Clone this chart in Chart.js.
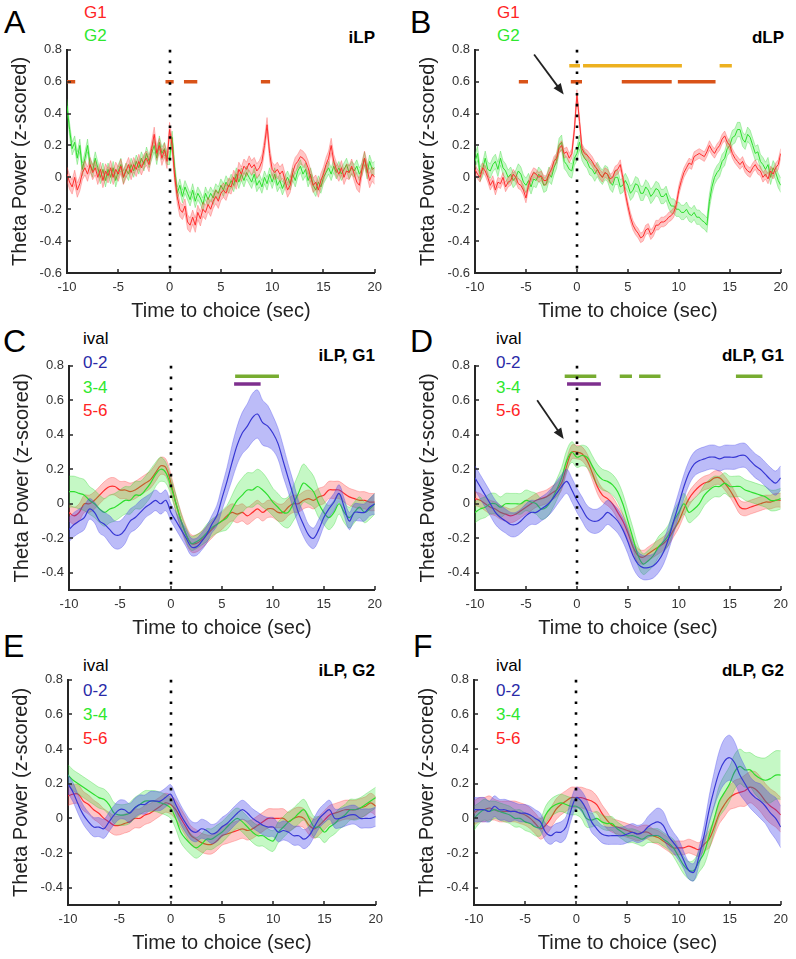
<!DOCTYPE html>
<html>
<head>
<meta charset="utf-8">
<title>Theta power around choice</title>
<script src="https://cdn.jsdelivr.net/npm/chart.js@4.4.1/dist/chart.umd.min.js"></script>
<style>
  body { margin: 0; background: #fff; }
  #fig { position: relative; width: 796px; height: 959px; overflow: hidden;
         font-family: "Liberation Sans", Arial, Helvetica, sans-serif; }
  #fig canvas { position: absolute; }
  .lbl { position: absolute; line-height: 1; white-space: nowrap; }
  .letter { font-size: 32px; color: #000; }
  .key { font-size: 17px; }
  .ttl { font-size: 17px; font-weight: bold; color: #000; }
</style>
</head>
<body>
<div id="fig">
  <div class="lbl letter" style="left:4px;top:6px">A</div>
  <div class="lbl key" style="left:84px;top:4px;color:#ff2424">G1</div>
  <div class="lbl key" style="left:84px;top:27px;color:#2ee82e">G2</div>
  <div class="lbl ttl" style="right:421px;top:29px">iLP</div>

  <div class="lbl letter" style="left:410px;top:6px">B</div>
  <div class="lbl key" style="left:497px;top:4px;color:#ff2424">G1</div>
  <div class="lbl key" style="left:497px;top:27px;color:#2ee82e">G2</div>
  <div class="lbl ttl" style="right:12px;top:29px">dLP</div>

  <div class="lbl letter" style="left:3px;top:325px">C</div>
  <div class="lbl key" style="left:83px;top:330px;color:#000">ival</div>
  <div class="lbl key" style="left:83px;top:354px;color:#2a2aa8">0-2</div>
  <div class="lbl key" style="left:83px;top:379px;color:#2ee82e">3-4</div>
  <div class="lbl key" style="left:83px;top:402px;color:#ff2424">5-6</div>
  <div class="lbl ttl" style="right:421px;top:347px">iLP, G1</div>

  <div class="lbl letter" style="left:410px;top:325px">D</div>
  <div class="lbl key" style="left:496px;top:330px;color:#000">ival</div>
  <div class="lbl key" style="left:496px;top:354px;color:#2a2aa8">0-2</div>
  <div class="lbl key" style="left:496px;top:379px;color:#2ee82e">3-4</div>
  <div class="lbl key" style="left:496px;top:402px;color:#ff2424">5-6</div>
  <div class="lbl ttl" style="right:12px;top:347px">dLP, G1</div>

  <div class="lbl letter" style="left:3px;top:630px">E</div>
  <div class="lbl key" style="left:83px;top:657px;color:#000">ival</div>
  <div class="lbl key" style="left:83px;top:682px;color:#2a2aa8">0-2</div>
  <div class="lbl key" style="left:83px;top:706px;color:#2ee82e">3-4</div>
  <div class="lbl key" style="left:83px;top:730px;color:#ff2424">5-6</div>
  <div class="lbl ttl" style="right:421px;top:662px">iLP, G2</div>

  <div class="lbl letter" style="left:413px;top:630px">F</div>
  <div class="lbl key" style="left:496px;top:657px;color:#000">ival</div>
  <div class="lbl key" style="left:496px;top:682px;color:#2a2aa8">0-2</div>
  <div class="lbl key" style="left:496px;top:706px;color:#2ee82e">3-4</div>
  <div class="lbl key" style="left:496px;top:730px;color:#ff2424">5-6</div>
  <div class="lbl ttl" style="right:12px;top:662px">dLP, G2</div>
</div>

<script>
// ---- time bases (sec) ----
const timeQ = [
  -10,-9.75,-9.5,-9.25,-9,-8.75,-8.5,-8.25,
  -8,-7.75,-7.5,-7.25,-7,-6.75,-6.5,-6.25,
  -6,-5.75,-5.5,-5.25,-5,-4.75,-4.5,-4.25,
  -4,-3.75,-3.5,-3.25,-3,-2.75,-2.5,-2.25,
  -2,-1.75,-1.5,-1.25,-1,-0.75,-0.5,-0.25,
  0,0.25,0.5,0.75,1,1.25,1.5,1.75,
  2,2.25,2.5,2.75,3,3.25,3.5,3.75,
  4,4.25,4.5,4.75,5,5.25,5.5,5.75,
  6,6.25,6.5,6.75,7,7.25,7.5,7.75,
  8,8.25,8.5,8.75,9,9.25,9.5,9.75,
  10,10.25,10.5,10.75,11,11.25,11.5,11.75,
  12,12.25,12.5,12.75,13,13.25,13.5,13.75,
  14,14.25,14.5,14.75,15,15.25,15.5,15.75,
  16,16.25,16.5,16.75,17,17.25,17.5,17.75,
  18,18.25,18.5,18.75,19,19.25,19.5,19.75,
  20];
const timeH = [
  -10,-9.5,-9,-8.5,-8,-7.5,-7,-6.5,-6,-5.5,
  -5,-4.5,-4,-3.5,-3,-2.5,-2,-1.5,-1,-0.5,
  0,0.5,1,1.5,2,2.5,3,3.5,4,4.5,
  5,5.5,6,6.5,7,7.5,8,8.5,9,9.5,
  10,10.5,11,11.5,12,12.5,13,13.5,14,14.5,
  15,15.5,16,16.5,17,17.5,18,18.5,19,19.5,
  20];

// ---- tick labels ----
const xTicks = [-10, -5, 0, 5, 10, 15, 20];
const yTicksAB = [-0.6, -0.4, -0.2, 0, 0.2, 0.4, 0.6, 0.8];
const yTicksCF = [-0.4, -0.2, 0, 0.2, 0.4, 0.6, 0.8];

// ---- A: iLP, G1 vs G2 ----
const ilpG1 = [
  0.02,-0.03,-0.06,0.0,-0.08,-0.04,0.03,0.06,
  0.02,0.08,0.03,0.06,0.0,0.05,-0.02,0.04,
  0.01,0.06,0.0,0.05,0.02,0.07,0.0,0.04,
  0.08,0.03,0.08,0.05,0.1,0.06,0.1,0.12,
  0.08,0.18,0.27,0.15,0.2,0.12,0.17,0.1,
  0.3,0.2,0.0,-0.12,-0.2,-0.22,-0.18,-0.28,
  -0.3,-0.25,-0.3,-0.22,-0.26,-0.2,-0.22,-0.17,
  -0.2,-0.15,-0.12,-0.15,-0.1,-0.08,-0.1,-0.05,
  -0.06,0.0,-0.03,0.05,0.02,0.07,0.05,0.09,
  0.06,0.08,0.04,0.06,0.1,0.2,0.33,0.15,
  0.05,0.03,0.05,0.02,0.04,-0.02,-0.08,-0.05,
  0.03,0.08,0.1,0.13,0.12,0.1,0.06,0.0,
  -0.05,-0.03,-0.08,-0.02,0.02,0.08,0.12,0.2,
  0.1,0.05,0.02,0.06,0.0,0.04,0.03,0.07,
  0.02,-0.03,-0.05,0.05,0.12,0.05,-0.02,0.02,
  0.0];
const ilpG2 = [
  0.45,0.3,0.18,0.22,0.12,0.2,0.05,0.12,
  0.2,0.08,0.04,0.12,0.06,0.0,0.05,-0.02,
  0.05,0.0,0.06,-0.02,0.04,0.08,0.0,0.05,
  0.02,0.08,0.04,0.1,0.06,0.12,0.08,0.15,
  0.1,0.15,0.2,0.12,0.22,0.15,0.18,0.12,
  0.12,0.25,0.05,-0.1,-0.05,-0.12,-0.06,-0.1,
  -0.14,-0.08,-0.15,-0.1,-0.13,-0.17,-0.1,-0.14,
  -0.1,-0.13,-0.08,-0.1,-0.05,-0.08,-0.03,-0.06,
  -0.02,-0.05,0.02,-0.03,0.02,-0.02,0.03,0.0,
  -0.03,0.02,-0.05,-0.02,-0.06,0.0,-0.04,0.02,
  -0.03,0.02,-0.05,-0.02,-0.07,-0.03,0.0,-0.04,
  0.02,-0.02,0.04,0.07,0.02,0.05,-0.02,0.02,
  -0.05,-0.08,-0.03,-0.06,0.0,0.03,0.06,0.02,
  0.07,0.03,0.06,0.02,0.05,0.08,0.03,0.06,
  0.04,0.07,0.02,0.05,0.12,0.03,0.1,0.05,
  0.06];
const semIlpG1 = 0.045;
const semIlpG2 = 0.04;

// ---- B: dLP, G1 vs G2 ----
const dlpG1 = [
  0.05,0.02,0.0,0.06,0.04,0.0,-0.05,-0.02,
  -0.08,-0.03,-0.04,0.0,-0.06,-0.03,-0.02,0.02,
  0.0,-0.04,-0.05,-0.08,-0.13,-0.05,0.0,0.03,
  0.02,0.0,0.01,-0.02,-0.02,0.02,0.05,0.1,
  0.12,0.18,0.2,0.15,0.16,0.12,0.15,0.3,
  0.52,0.35,0.18,0.15,0.14,0.12,0.1,0.07,
  0.05,0.02,0.0,0.03,0.02,-0.01,0.0,0.04,
  0.05,0.08,0.0,-0.1,-0.18,-0.25,-0.3,-0.33,
  -0.35,-0.38,-0.37,-0.33,-0.32,-0.36,-0.34,-0.3,
  -0.3,-0.28,-0.28,-0.27,-0.25,-0.24,-0.22,-0.17,
  -0.08,-0.02,0.03,0.06,0.09,0.08,0.13,0.14,
  0.15,0.14,0.13,0.16,0.2,0.17,0.15,0.18,
  0.2,0.24,0.26,0.22,0.2,0.15,0.12,0.1,
  0.08,0.1,0.06,0.04,0.03,0.06,0.08,0.05,
  0.04,0.0,0.02,-0.01,0.04,0.02,0.06,0.08,
  0.15];
const dlpG2 = [
  0.1,0.15,0.02,0.05,0.12,0.05,0.04,0.08,
  0.1,0.05,0.12,0.06,0.04,0.0,0.02,-0.02,
  0.0,0.04,0.02,-0.03,-0.05,-0.02,-0.06,-0.01,
  -0.02,0.02,0.0,-0.05,-0.04,0.02,0.0,0.06,
  0.1,0.2,0.22,0.1,0.08,0.05,0.04,0.12,
  0.15,0.22,0.15,0.12,0.1,0.06,0.05,0.02,
  0.05,0.02,0.0,0.03,0.02,-0.03,-0.05,0.0,
  0.0,-0.06,-0.05,-0.02,-0.05,-0.1,-0.08,-0.04,
  -0.05,-0.1,-0.1,-0.06,-0.08,-0.12,-0.1,-0.07,
  -0.08,-0.12,-0.12,-0.1,-0.15,-0.18,-0.18,-0.2,
  -0.2,-0.22,-0.22,-0.2,-0.23,-0.24,-0.22,-0.25,
  -0.25,-0.27,-0.28,-0.3,-0.15,-0.06,0.0,0.03,
  0.05,0.1,0.12,0.18,0.2,0.25,0.26,0.3,
  0.3,0.24,0.22,0.27,0.25,0.2,0.15,0.16,
  0.1,0.08,0.05,0.08,0.0,0.06,0.03,-0.02,
  -0.05];
const semDlpG1 = 0.03;
const semDlpG2 = 0.045;

// ---- C: iLP, G1 by interval ----
const ilpG1Ival02 = [
  -0.15,-0.12,-0.1,-0.08,-0.03,-0.05,-0.1,-0.12,-0.15,-0.18,
  -0.18,-0.15,-0.1,-0.08,-0.05,-0.02,0.0,0.02,0.0,0.02,
  -0.05,-0.1,-0.15,-0.2,-0.25,-0.25,-0.22,-0.18,-0.12,-0.07,
  0.03,0.13,0.24,0.34,0.41,0.45,0.5,0.52,0.47,0.45,
  0.41,0.35,0.25,0.15,0.05,-0.05,-0.12,-0.18,-0.2,-0.15,
  -0.08,-0.03,0.01,0.06,-0.02,-0.1,-0.05,-0.05,-0.05,-0.02,
  0.0];
const ilpG1Ival34 = [
  0.07,0.07,0.06,0.05,0.02,0.0,-0.03,-0.05,-0.03,-0.02,
  0.0,0.02,0.02,0.05,0.05,0.08,0.12,0.17,0.2,0.18,
  0.1,0.0,-0.1,-0.18,-0.23,-0.22,-0.2,-0.17,-0.14,-0.12,
  -0.1,-0.08,-0.03,0.02,0.05,0.08,0.08,0.1,0.08,0.05,
  0.01,-0.02,-0.05,-0.05,0.0,0.06,0.12,0.1,0.07,0.0,
  -0.05,-0.08,-0.05,0.0,-0.05,-0.08,-0.05,-0.02,-0.05,-0.03,
  0.0];
const ilpG1Ival56 = [
  -0.05,-0.07,-0.05,0.0,0.0,0.02,0.05,0.08,0.1,0.1,
  0.08,0.08,0.07,0.08,0.1,0.12,0.14,0.18,0.22,0.21,
  0.12,0.0,-0.1,-0.18,-0.23,-0.23,-0.21,-0.18,-0.15,-0.12,
  -0.1,-0.07,-0.05,-0.06,-0.05,-0.07,-0.05,-0.03,-0.05,-0.03,
  -0.03,-0.05,-0.05,-0.02,0.0,0.0,0.02,0.03,0.02,0.04,
  0.05,0.08,0.08,0.08,0.06,0.04,0.03,0.02,0.02,0.01,
  0.01];
const semIlpG1Ival02 = [
  0.07,0.07,0.07,0.07,0.06,0.06,0.07,0.07,0.08,0.08,
  0.08,0.08,0.07,0.07,0.07,0.06,0.06,0.06,0.06,0.06,
  0.05,0.05,0.05,0.05,0.05,0.05,0.05,0.05,0.05,0.06,
  0.07,0.08,0.1,0.11,0.12,0.13,0.14,0.14,0.13,0.12,
  0.1,0.09,0.09,0.08,0.08,0.07,0.07,0.06,0.06,0.06,
  0.05,0.05,0.05,0.05,0.05,0.05,0.05,0.05,0.05,0.05,
  0.06];
const semIlpG1Ival34 = [
  0.09,0.09,0.09,0.09,0.08,0.08,0.08,0.08,0.08,0.08,
  0.08,0.08,0.08,0.08,0.08,0.08,0.08,0.07,0.07,0.06,
  0.05,0.05,0.04,0.04,0.04,0.04,0.04,0.05,0.05,0.05,
  0.06,0.07,0.08,0.09,0.1,0.1,0.1,0.1,0.1,0.09,
  0.08,0.08,0.08,0.09,0.1,0.11,0.11,0.1,0.09,0.08,
  0.07,0.07,0.07,0.06,0.06,0.06,0.06,0.06,0.06,0.06,
  0.06];
const semIlpG1Ival56 = 0.05;

// ---- D: dLP, G1 by interval ----
const dlpG1Ival02 = [
  0.15,0.1,0.05,0.0,-0.05,-0.08,-0.1,-0.12,-0.12,-0.1,
  -0.07,-0.05,-0.05,-0.03,-0.01,0.02,0.06,0.1,0.13,0.08,
  0.02,-0.03,-0.08,-0.1,-0.1,-0.08,-0.05,-0.07,-0.1,-0.15,
  -0.22,-0.3,-0.35,-0.37,-0.37,-0.36,-0.33,-0.28,-0.2,-0.1,
  0.0,0.1,0.18,0.23,0.25,0.26,0.27,0.27,0.26,0.27,
  0.27,0.27,0.28,0.28,0.25,0.22,0.2,0.17,0.14,0.12,
  0.15];
const dlpG1Ival34 = [
  -0.05,-0.03,-0.02,0.0,0.0,-0.02,0.0,0.0,0.0,0.0,
  0.02,0.01,0.0,-0.03,-0.02,0.02,0.08,0.15,0.25,0.3,
  0.27,0.28,0.27,0.22,0.17,0.14,0.13,0.11,0.07,0.0,
  -0.1,-0.2,-0.3,-0.35,-0.33,-0.3,-0.25,-0.22,-0.18,-0.1,
  -0.05,0.0,-0.05,-0.03,0.0,0.05,0.08,0.1,0.1,0.12,
  0.1,0.1,0.1,0.08,0.07,0.06,0.05,0.04,0.02,0.02,
  0.03];
const dlpG1Ival56 = [
  0.03,0.02,0.0,-0.02,-0.03,-0.05,-0.06,-0.07,-0.06,-0.04,
  -0.02,0.0,0.02,0.03,0.04,0.06,0.08,0.12,0.22,0.3,
  0.3,0.29,0.25,0.18,0.1,0.05,0.03,0.0,-0.05,-0.1,
  -0.17,-0.25,-0.3,-0.31,-0.29,-0.27,-0.25,-0.23,-0.2,-0.15,
  -0.1,-0.03,0.03,0.07,0.1,0.12,0.13,0.15,0.15,0.12,
  0.08,0.03,-0.02,-0.03,-0.02,-0.01,0.0,0.01,0.01,0.02,
  0.02];
const semDlpG1Ival02 = 0.07;
const semDlpG1Ival34 = 0.06;
const semDlpG1Ival56 = 0.04;

// ---- E: iLP, G2 by interval ----
const ilpG2Ival02 = [
  0.2,0.15,0.08,0.02,-0.02,-0.05,-0.05,-0.06,-0.02,0.02,
  0.05,0.05,0.03,0.06,0.08,0.08,0.1,0.1,0.1,0.12,
  0.14,0.08,0.02,-0.03,-0.07,-0.08,-0.06,-0.07,-0.09,-0.08,
  -0.05,-0.03,0.0,0.03,0.05,0.03,0.0,-0.02,-0.04,-0.05,
  -0.05,-0.08,-0.07,-0.08,-0.1,-0.1,-0.12,-0.1,-0.05,0.0,
  0.03,0.05,0.0,0.0,0.01,0.02,0.02,0.0,0.0,0.0,
  0.01];
const ilpG2Ival34 = [
  0.25,0.22,0.2,0.18,0.16,0.14,0.12,0.11,0.08,0.03,
  0.02,0.02,0.03,0.06,0.08,0.1,0.1,0.1,0.09,0.08,
  0.06,0.0,-0.08,-0.12,-0.15,-0.17,-0.15,-0.12,-0.12,-0.1,
  -0.08,-0.05,-0.02,0.0,-0.02,-0.05,-0.08,-0.1,-0.1,-0.12,
  -0.13,-0.08,-0.05,-0.02,0.0,0.03,0.05,0.0,-0.05,-0.05,
  -0.08,-0.05,-0.03,0.0,0.02,0.05,0.05,0.06,0.08,0.1,
  0.12];
const ilpG2Ival56 = [
  0.13,0.14,0.14,0.1,0.08,0.05,0.03,0.0,-0.02,-0.04,
  -0.04,-0.03,-0.02,0.0,0.0,0.02,0.03,0.05,0.07,0.09,
  0.08,0.05,0.0,-0.05,-0.1,-0.12,-0.14,-0.15,-0.15,-0.13,
  -0.1,-0.09,-0.08,-0.07,-0.06,-0.07,-0.06,-0.04,-0.02,0.0,
  0.0,0.0,0.0,-0.02,0.0,0.01,0.0,-0.04,-0.06,-0.04,
  -0.01,0.02,0.03,0.04,0.05,0.05,0.05,0.06,0.07,0.09,
  0.07];
const semIlpG2Ival02 = 0.055;
const semIlpG2Ival34 = 0.06;
const semIlpG2Ival56 = 0.055;

// ---- F: dLP, G2 by interval ----
const dlpG2Ival02 = [
  0.05,0.05,0.05,0.04,0.07,0.05,0.05,0.04,0.04,0.03,
  0.03,0.02,0.0,-0.02,-0.08,-0.1,-0.08,-0.08,-0.05,0.05,
  0.12,0.1,0.05,-0.02,-0.06,-0.09,-0.1,-0.1,-0.1,-0.1,
  -0.09,-0.08,-0.09,-0.08,-0.05,-0.03,-0.02,-0.04,-0.1,-0.14,
  -0.18,-0.24,-0.3,-0.31,-0.22,-0.1,0.05,0.17,0.27,0.33,
  0.35,0.32,0.25,0.2,0.15,0.12,0.1,0.07,0.03,0.0,
  -0.05];
const dlpG2Ival34 = [
  0.0,0.03,0.05,0.04,0.05,0.04,0.03,0.02,0.0,0.0,
  -0.02,-0.03,-0.05,-0.05,0.02,0.06,0.08,0.09,0.08,0.07,
  0.07,0.05,0.0,-0.01,0.0,-0.02,-0.03,-0.03,-0.06,-0.08,
  -0.1,-0.1,-0.11,-0.12,-0.1,-0.1,-0.1,-0.12,-0.14,-0.17,
  -0.22,-0.27,-0.3,-0.3,-0.25,-0.2,-0.1,0.0,0.1,0.15,
  0.2,0.27,0.3,0.28,0.28,0.25,0.23,0.22,0.23,0.25,
  0.25];
const dlpG2Ival56 = [
  0.03,0.05,0.05,0.06,0.05,0.04,0.04,0.04,0.04,0.03,
  0.02,0.0,-0.03,-0.06,-0.04,0.0,0.05,0.08,0.1,0.12,
  0.12,0.12,0.11,0.1,0.08,0.03,-0.01,-0.04,-0.05,-0.06,
  -0.07,-0.08,-0.09,-0.08,-0.08,-0.1,-0.11,-0.13,-0.15,-0.17,
  -0.17,-0.17,-0.16,-0.17,-0.18,-0.15,-0.12,-0.05,0.03,0.08,
  0.12,0.14,0.15,0.16,0.18,0.17,0.14,0.1,0.07,0.05,
  0.02];
const semDlpG2Ival02 = [
  0.07,0.07,0.07,0.06,0.06,0.06,0.06,0.06,0.05,0.05,
  0.05,0.05,0.05,0.05,0.05,0.05,0.05,0.06,0.06,0.06,
  0.06,0.06,0.06,0.06,0.05,0.05,0.05,0.05,0.05,0.05,
  0.05,0.05,0.05,0.05,0.06,0.07,0.08,0.08,0.07,0.06,
  0.06,0.05,0.05,0.05,0.05,0.06,0.08,0.1,0.12,0.13,
  0.13,0.12,0.11,0.1,0.09,0.09,0.1,0.1,0.11,0.12,
  0.12];
const semDlpG2Ival34 = [
  0.07,0.06,0.06,0.06,0.05,0.05,0.05,0.05,0.05,0.05,
  0.05,0.05,0.05,0.05,0.05,0.05,0.05,0.05,0.05,0.05,
  0.05,0.05,0.05,0.04,0.04,0.04,0.04,0.04,0.04,0.04,
  0.04,0.04,0.04,0.04,0.04,0.04,0.04,0.04,0.04,0.05,
  0.05,0.05,0.05,0.06,0.06,0.07,0.08,0.08,0.09,0.1,
  0.1,0.1,0.1,0.1,0.1,0.11,0.12,0.13,0.14,0.14,
  0.14];
const semDlpG2Ival56 = [
  0.07,0.07,0.07,0.07,0.06,0.06,0.06,0.06,0.06,0.06,
  0.06,0.06,0.06,0.06,0.06,0.06,0.06,0.06,0.06,0.06,
  0.06,0.06,0.06,0.06,0.05,0.05,0.05,0.04,0.04,0.04,
  0.04,0.04,0.04,0.04,0.04,0.04,0.04,0.04,0.04,0.04,
  0.04,0.04,0.04,0.04,0.04,0.04,0.05,0.05,0.06,0.07,
  0.07,0.08,0.08,0.09,0.09,0.1,0.1,0.1,0.1,0.1,
  0.1];

// ---- significance bars: [start, end] in sec ----
const sigLevels = { orange: 0.6, yellow: 0.7, green: 0.74, purple: 0.695 };
const sigIlpOrange = [[-10, -9.2], [-0.4, 0.4], [1.4, 2.7], [8.9, 9.8]];
const sigDlpYellow = [[-0.75, 0.3], [0.6, 10.3], [14, 15.2]];
const sigDlpOrange = [[-5.7, -4.8], [-0.6, 0.5], [4.4, 9.3], [9.9, 13.6]];
const sigIlpG1Green = [[6.3, 10.6]];
const sigIlpG1Purple = [[6.2, 8.8]];
const sigDlpG1Green = [[-1.2, 1.9], [4.2, 5.4], [6.1, 8.2], [15.6, 18.2]];
const sigDlpG1Purple = [[-0.97, 2.35]];

// annotation arrows [[fromX, fromY], [toX, toY]] in data units
const arrowDlp = [[-4.2, 0.77], [-1.3, 0.52]];
const arrowDlpG1 = [[-3.9, 0.6], [-1.3, 0.375]];

// ---------------------------------------------------------------
Chart.defaults.font.family = '"Liberation Sans", Arial, Helvetica, sans-serif';

const AXW = 67;   // y axis block width
const AXH = 52;   // x axis block height
const PADT = 10;
const PADR = 12;

const palette = {
    red:   { line: '#ff2e2e', band: 'rgba(255,45,45,0.27)', edge: 'rgba(255,60,60,0.45)' },
    green: { line: '#30dc30', band: 'rgba(40,228,40,0.27)', edge: 'rgba(40,210,40,0.45)' },
    blue:  { line: '#3535c8', band: 'rgba(60,60,235,0.34)', edge: 'rgba(60,60,235,0.45)' }
};
const barColors = { orange: '#d95319', yellow: '#edb120', green: '#77ac30', purple: '#7e2f8e' };

function edgePoints(t, mean, sem, sign) {
    return t.map((x, i) => ({ x: x, y: mean[i] + sign * (Array.isArray(sem) ? sem[i] : sem) }));
}

function barPoints(spans, level) {
    const out = [];
    spans.forEach(s => {
        out.push({ x: s[0], y: level }, { x: s[1], y: level }, { x: s[1], y: null });
    });
    return out;
}

function decorPlugin(p) {
    return {
        id: 'decor',
        afterDatasetsDraw(chart) {
            const { ctx, chartArea: a, scales: { x, y } } = chart;
            // dotted line at choice time
            ctx.save();
            ctx.strokeStyle = '#000';
            ctx.lineWidth = 2.6;
            ctx.setLineDash([2.6, 8.2]);
            const x0 = Math.round(x.getPixelForValue(0));
            ctx.beginPath();
            ctx.moveTo(x0, a.top);
            ctx.lineTo(x0, a.bottom);
            ctx.stroke();
            ctx.restore();

            if (p.arrow) {
                const x1 = x.getPixelForValue(p.arrow[0][0]), y1 = y.getPixelForValue(p.arrow[0][1]);
                const x2 = x.getPixelForValue(p.arrow[1][0]), y2 = y.getPixelForValue(p.arrow[1][1]);
                const ang = Math.atan2(y2 - y1, x2 - x1);
                const hl = 11, hw = 4.5;
                ctx.save();
                ctx.strokeStyle = '#222';
                ctx.fillStyle = '#222';
                ctx.lineWidth = 1.8;
                ctx.beginPath();
                ctx.moveTo(x1, y1);
                ctx.lineTo(x2 - Math.cos(ang) * hl * 0.8, y2 - Math.sin(ang) * hl * 0.8);
                ctx.stroke();
                ctx.beginPath();
                ctx.moveTo(x2, y2);
                ctx.lineTo(x2 - Math.cos(ang) * hl - Math.sin(ang) * hw, y2 - Math.sin(ang) * hl + Math.cos(ang) * hw);
                ctx.lineTo(x2 - Math.cos(ang) * hl + Math.sin(ang) * hw, y2 - Math.sin(ang) * hl - Math.cos(ang) * hw);
                ctx.closePath();
                ctx.fill();
                ctx.restore();
            }
        },
        afterDraw(chart) {
            // inward tick marks, matlab style
            const { ctx, chartArea: a, scales: { x, y } } = chart;
            ctx.save();
            ctx.strokeStyle = '#262626';
            ctx.lineWidth = 1.5;
            ctx.beginPath();
            xTicks.forEach(v => {
                const px = Math.round(x.getPixelForValue(v));
                ctx.moveTo(px, a.bottom);
                ctx.lineTo(px, a.bottom - 4);
            });
            p.yTicks.forEach(v => {
                const py = Math.round(y.getPixelForValue(v));
                ctx.moveTo(a.left, py);
                ctx.lineTo(a.left + 4, py);
            });
            ctx.stroke();
            ctx.restore();
        }
    };
}

function makePanel(p) {
    const fig = document.getElementById('fig');
    const c = document.createElement('canvas');
    c.width = p.box.right - p.box.left + AXW + PADR;
    c.height = p.box.bottom - p.box.top + PADT + AXH;
    c.style.left = (p.box.left - AXW) + 'px';
    c.style.top = (p.box.top - PADT) + 'px';
    fig.appendChild(c);

    const datasets = [];
    p.series.forEach(s => {
        const pal = palette[s.color];
        datasets.push({ data: edgePoints(p.t, s.mean, s.sem, 1), borderColor: pal.edge, borderWidth: 0.7, fill: false });
        datasets.push({ data: edgePoints(p.t, s.mean, s.sem, -1), borderColor: pal.edge, borderWidth: 0.7,
                        backgroundColor: pal.band, fill: '-1' });
        datasets.push({ data: edgePoints(p.t, s.mean, 0, 1), borderColor: pal.line, borderWidth: p.lw, fill: false });
    });
    p.bars.forEach(b => {
        datasets.push({ data: barPoints(b.spans, sigLevels[b.color]), borderColor: barColors[b.color],
                        borderWidth: 3.5, fill: false, spanGaps: false, tension: 0 });
    });

    new Chart(c, {
        type: 'line',
        data: { datasets: datasets },
        options: {
            responsive: false,
            animation: false,
            events: [],
            devicePixelRatio: 1,
            layout: { padding: { left: 0, top: PADT, right: PADR, bottom: 0 } },
            elements: { point: { radius: 0 }, line: { tension: p.tension, borderCapStyle: 'butt' } },
            plugins: { legend: { display: false }, tooltip: { enabled: false } },
            scales: {
                x: {
                    type: 'linear', min: -10, max: 20,
                    afterBuildTicks: s => { s.ticks = xTicks.map(v => ({ value: v })); },
                    afterFit: s => { s.height = AXH; },
                    grid: { display: false, drawTicks: false },
                    border: { display: true, color: '#262626', width: 2 },
                    ticks: { padding: 7, color: '#333', font: { size: 13 }, maxRotation: 0, autoSkip: false },
                    title: { display: true, text: 'Time to choice (sec)', color: '#222',
                             font: { size: 20 }, padding: { top: 0, bottom: 2 } }
                },
                y: {
                    type: 'linear', min: p.yMin, max: 0.8,
                    afterBuildTicks: s => { s.ticks = p.yTicks.map(v => ({ value: v })); },
                    afterFit: s => { s.width = AXW; },
                    grid: { display: false, drawTicks: false },
                    border: { display: true, color: '#262626', width: 2 },
                    ticks: { padding: 5, color: '#333', font: { size: 13 }, autoSkip: false,
                             callback: v => (v === 0 ? '0' : v.toFixed(1)) },
                    title: { display: true, text: 'Theta Power (z-scored)', color: '#222',
                             font: { size: 20 }, padding: { top: 8, bottom: 0 } }
                }
            }
        },
        plugins: [decorPlugin(p)]
    });
}

document.addEventListener('DOMContentLoaded', function () {

    // A
    makePanel({
        box: { left: 67, top: 47, right: 377, bottom: 273 }, t: timeQ, yMin: -0.6, yTicks: yTicksAB,
        tension: 0, lw: 1,
        series: [
            { mean: ilpG1, sem: semIlpG1, color: 'red' },
            { mean: ilpG2, sem: semIlpG2, color: 'green' }
        ],
        bars: [{ spans: sigIlpOrange, color: 'orange' }]
    });

    // B
    makePanel({
        box: { left: 475, top: 47, right: 783, bottom: 273 }, t: timeQ, yMin: -0.6, yTicks: yTicksAB,
        tension: 0, lw: 1, arrow: arrowDlp,
        series: [
            { mean: dlpG1, sem: semDlpG1, color: 'red' },
            { mean: dlpG2, sem: semDlpG2, color: 'green' }
        ],
        bars: [{ spans: sigDlpYellow, color: 'yellow' }, { spans: sigDlpOrange, color: 'orange' }]
    });

    // C
    makePanel({
        box: { left: 69, top: 363, right: 377, bottom: 590 }, t: timeH, yMin: -0.5, yTicks: yTicksCF,
        tension: 0.35, lw: 1.2,
        series: [
            { mean: ilpG1Ival02, sem: semIlpG1Ival02, color: 'blue' },
            { mean: ilpG1Ival34, sem: semIlpG1Ival34, color: 'green' },
            { mean: ilpG1Ival56, sem: semIlpG1Ival56, color: 'red' }
        ],
        bars: [{ spans: sigIlpG1Green, color: 'green' }, { spans: sigIlpG1Purple, color: 'purple' }]
    });

    // D
    makePanel({
        box: { left: 475, top: 363, right: 783, bottom: 590 }, t: timeH, yMin: -0.5, yTicks: yTicksCF,
        tension: 0.35, lw: 1.2, arrow: arrowDlpG1,
        series: [
            { mean: dlpG1Ival02, sem: semDlpG1Ival02, color: 'blue' },
            { mean: dlpG1Ival34, sem: semDlpG1Ival34, color: 'green' },
            { mean: dlpG1Ival56, sem: semDlpG1Ival56, color: 'red' }
        ],
        bars: [{ spans: sigDlpG1Green, color: 'green' }, { spans: sigDlpG1Purple, color: 'purple' }]
    });

    // E
    makePanel({
        box: { left: 68, top: 677, right: 378, bottom: 905 }, t: timeH, yMin: -0.5, yTicks: yTicksCF,
        tension: 0.35, lw: 1.2,
        series: [
            { mean: ilpG2Ival02, sem: semIlpG2Ival02, color: 'blue' },
            { mean: ilpG2Ival34, sem: semIlpG2Ival34, color: 'green' },
            { mean: ilpG2Ival56, sem: semIlpG2Ival56, color: 'red' }
        ],
        bars: []
    });

    // F
    makePanel({
        box: { left: 474, top: 677, right: 783, bottom: 905 }, t: timeH, yMin: -0.5, yTicks: yTicksCF,
        tension: 0.35, lw: 1.2,
        series: [
            { mean: dlpG2Ival02, sem: semDlpG2Ival02, color: 'blue' },
            { mean: dlpG2Ival34, sem: semDlpG2Ival34, color: 'green' },
            { mean: dlpG2Ival56, sem: semDlpG2Ival56, color: 'red' }
        ],
        bars: []
    });
});
</script>
</body>
</html>
